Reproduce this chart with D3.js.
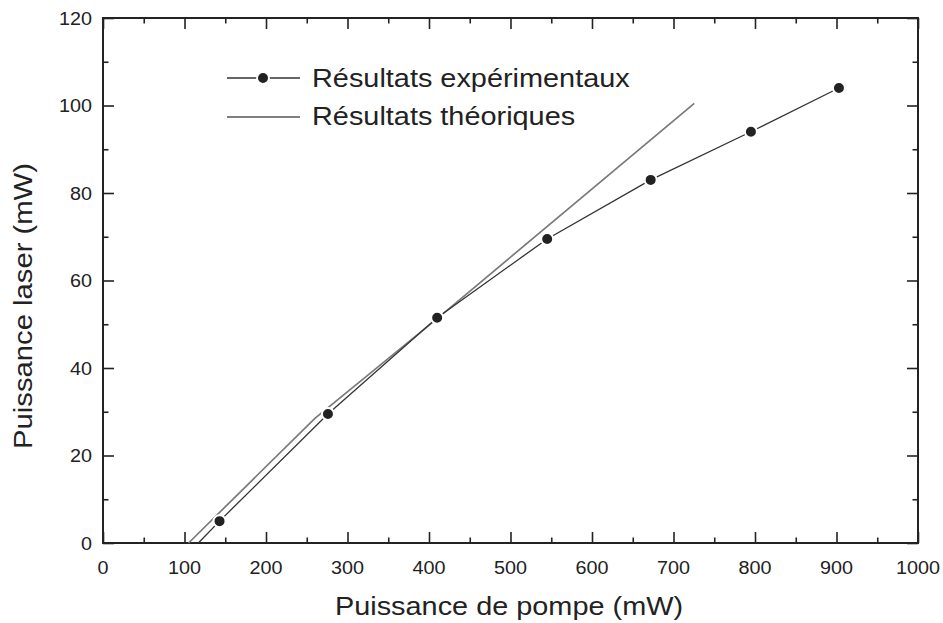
<!DOCTYPE html>
<html><head><meta charset="utf-8">
<script src="https://cdn.jsdelivr.net/npm/d3@7"></script>
<style>
html,body{margin:0;padding:0;background:#fff;}
svg{display:block;}
text{font-family:"Liberation Sans",Arial,Helvetica,sans-serif;fill:#222;}
</style></head>
<body>
<svg id="c" width="943" height="623"></svg>
<script>
// ---- data ----
const expX = [143, 276, 410, 545, 672, 795, 903];
const expY = [5, 29.5, 51.5, 69.5, 83, 94, 104];
const expThresholdX = [117];          // experimental fit starts at threshold (y = 0)
const theoX = [105, 260, 410, 725.5];
const theoY = [0, 28.5, 51.3, 100.5];
const xMajorTicks = [0, 100, 200, 300, 400, 500, 600, 700, 800, 900, 1000];
const xMinorTicks = [50, 150, 250, 350, 450, 550, 650, 750, 850, 950];
const yMajorTicks = [0, 20, 40, 60, 80, 100, 120];
const yMinorTicks = [10, 30, 50, 70, 90, 110];
const legendLabels = ["Résultats expérimentaux", "Résultats théoriques"];
const xTitle = "Puissance de pompe (mW)";
const yTitle = "Puissance laser (mW)";

// ---- layout ----
const L = 103, R = 918, T = 18, B = 543;
const svg = d3.select("#c");
const x = d3.scaleLinear().domain([0, 1000]).range([L, R]);
const y = d3.scaleLinear().domain([0, 120]).range([B, T]);
const INK = "#222";
const MAJ = 11, MIN = 5.5;

function axisStyle(g){
  g.select(".domain").remove();
  g.selectAll(".tick line").attr("stroke", INK).attr("stroke-width", 1.6);
  g.selectAll(".tick text").remove();
}
// bottom
svg.append("g").attr("transform",`translate(0,${B})`)
  .call(d3.axisBottom(x).tickValues(xMajorTicks).tickSize(-MAJ).tickFormat("")).call(axisStyle);
svg.append("g").attr("transform",`translate(0,${B})`)
  .call(d3.axisBottom(x).tickValues(xMinorTicks).tickSize(-MIN).tickFormat("")).call(axisStyle);
// top
svg.append("g").attr("transform",`translate(0,${T})`)
  .call(d3.axisTop(x).tickValues(xMajorTicks).tickSize(-MAJ).tickFormat("")).call(axisStyle);
svg.append("g").attr("transform",`translate(0,${T})`)
  .call(d3.axisTop(x).tickValues(xMinorTicks).tickSize(-MIN).tickFormat("")).call(axisStyle);
// left
svg.append("g").attr("transform",`translate(${L},0)`)
  .call(d3.axisLeft(y).tickValues(yMajorTicks).tickSize(-MAJ).tickFormat("")).call(axisStyle);
svg.append("g").attr("transform",`translate(${L},0)`)
  .call(d3.axisLeft(y).tickValues(yMinorTicks).tickSize(-MIN).tickFormat("")).call(axisStyle);
// right
svg.append("g").attr("transform",`translate(${R},0)`)
  .call(d3.axisRight(y).tickValues(yMajorTicks).tickSize(-MAJ).tickFormat("")).call(axisStyle);
svg.append("g").attr("transform",`translate(${R},0)`)
  .call(d3.axisRight(y).tickValues(yMinorTicks).tickSize(-MIN).tickFormat("")).call(axisStyle);

// frame
svg.append("rect").attr("x", L).attr("y", T).attr("width", R - L).attr("height", B - T)
  .attr("fill", "none").attr("stroke", INK).attr("stroke-width", 2);

// tick labels
const TICK_FS = 18.5, TICK_SX = 1.07;
svg.append("g").selectAll("text").data(xMajorTicks).join("text")
  .attr("transform", d => `translate(${x(d)},574) scale(${TICK_SX},1)`)
  .attr("text-anchor", "middle").attr("font-size", TICK_FS).text(d => d);
svg.append("g").selectAll("text").data(yMajorTicks).join("text")
  .attr("transform", d => `translate(92,${y(d) + 6.5}) scale(${TICK_SX},1)`)
  .attr("text-anchor", "end").attr("font-size", TICK_FS).text(d => d);

// axis titles
const BIG_FS = 25, BIG_SX = 1.155;
svg.append("text").attr("transform", `translate(509,615) scale(${BIG_SX},1)`)
  .attr("text-anchor", "middle").attr("font-size", BIG_FS).text(xTitle);
svg.append("text").attr("transform", `translate(32,306) rotate(-90) scale(${1.17},1)`)
  .attr("text-anchor", "middle").attr("font-size", BIG_FS).text(yTitle);

// theoretical line
const theo = theoX.map((v, i) => [v, theoY[i]]);
const line = d3.line().x(d => x(d[0])).y(d => y(d[1]));
svg.append("path").datum(theo).attr("d", line)
  .attr("fill", "none").attr("stroke", "#7a7a7a").attr("stroke-width", 1.7);

// experimental line + markers
const exp = expX.map((v, i) => [v, expY[i]]);
const expLine = [[expThresholdX[0], 0]].concat(exp);
svg.append("path").datum(expLine).attr("d", line)
  .attr("fill", "none").attr("stroke", "#333").attr("stroke-width", 1.3);
svg.append("g").selectAll("circle").data(exp).join("circle")
  .attr("cx", d => x(d[0])).attr("cy", d => y(d[1])).attr("r", 6)
  .attr("fill", INK).attr("stroke", "#fff").attr("stroke-width", 2);

// legend
const lg = svg.append("g");
lg.append("line").attr("x1", 227).attr("x2", 300).attr("y1", 78).attr("y2", 78)
  .attr("stroke", "#333").attr("stroke-width", 1.3);
lg.append("circle").attr("cx", 263).attr("cy", 78).attr("r", 6)
  .attr("fill", INK).attr("stroke", "#fff").attr("stroke-width", 2);
lg.append("line").attr("x1", 227).attr("x2", 300).attr("y1", 117).attr("y2", 117)
  .attr("stroke", "#555").attr("stroke-width", 1.5);
lg.selectAll("text").data(legendLabels).join("text")
  .attr("transform", (d, i) => `translate(312,${86.5 + i * 38.5}) scale(${BIG_SX},1)`)
  .attr("font-size", BIG_FS).text(d => d);
</script>
</body></html>
